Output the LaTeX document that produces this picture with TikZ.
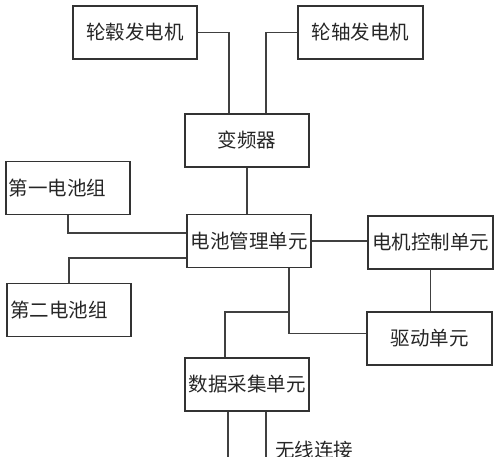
\documentclass[tikz,border=0pt]{standalone}
\usepackage{fontspec}
\newfontfamily\cjk{Noto Sans CJK SC}
\begin{document}
\begin{tikzpicture}[x=1pt,y=-1pt,
  unitbox/.style={draw=black!80,line width=1.1pt,minimum height=53pt,text=black!85,
    inner sep=0pt,font=\cjk\fontsize{19.5}{20}\selectfont},
  wire/.style={draw=black!75,line width=1.1pt}]
\useasboundingbox (0,0) rectangle (500,457);

\node[unitbox,minimum width=124pt] (hubgen) at (135,32.5) {轮毂发电机};
\node[unitbox,minimum width=125pt] (axlegen) at (360.5,32.5) {轮轴发电机};
\node[unitbox,minimum width=124pt] (conv) at (247,140.5) {变频器};
\node[unitbox,minimum width=124pt,text width=118pt,align=left] (bat1) at (68,188) {第一电池组};
\node[unitbox,minimum width=124pt] (bms) at (249,241) {电池管理单元};
\node[unitbox,minimum width=125pt] (motor) at (430.5,242.5) {电机控制单元};
\node[unitbox,minimum width=124pt,text width=118pt,align=left] (bat2) at (69,310) {第二电池组};
\node[unitbox,minimum width=125pt] (drive) at (429.5,338.5) {驱动单元};
\node[unitbox,minimum width=124pt] (daq) at (247,384.5) {数据采集单元};

\coordinate (tap) at (289,312);
\coordinate (wireA) at (228,470);
\coordinate (wireB) at (266,470);

\draw[wire] (hubgen.east) -| ([xshift=-18pt]conv.north);
\draw[wire] (axlegen.west) -| ([xshift=19pt]conv.north);
\draw[wire] (conv.south) -- (conv.south |- bms.north);
\draw[wire] (bat1.south) |- ([yshift=8pt]bms.west);
\draw[wire] (bat2.north) |- ([yshift=-17pt]bms.west);
\draw[wire] (bms.east) -- (bms.east -| motor.west);
\draw[wire] (motor.south) -- (motor.south |- drive.north);
\draw[wire] ([xshift=40pt]bms.south) |- ([yshift=5pt]drive.west);
\draw[wire] (tap) -| ([xshift=-22pt]daq.north);
\draw[wire] (daq.south -| wireA) -- (wireA);
\draw[wire] (daq.south -| wireB) -- (wireB);

\node[anchor=north west,inner sep=0pt,text=black!85,font=\cjk\fontsize{19.5}{20}\selectfont] (wlabel) at (275,441) {无线连接};
\end{tikzpicture}
\end{document}
